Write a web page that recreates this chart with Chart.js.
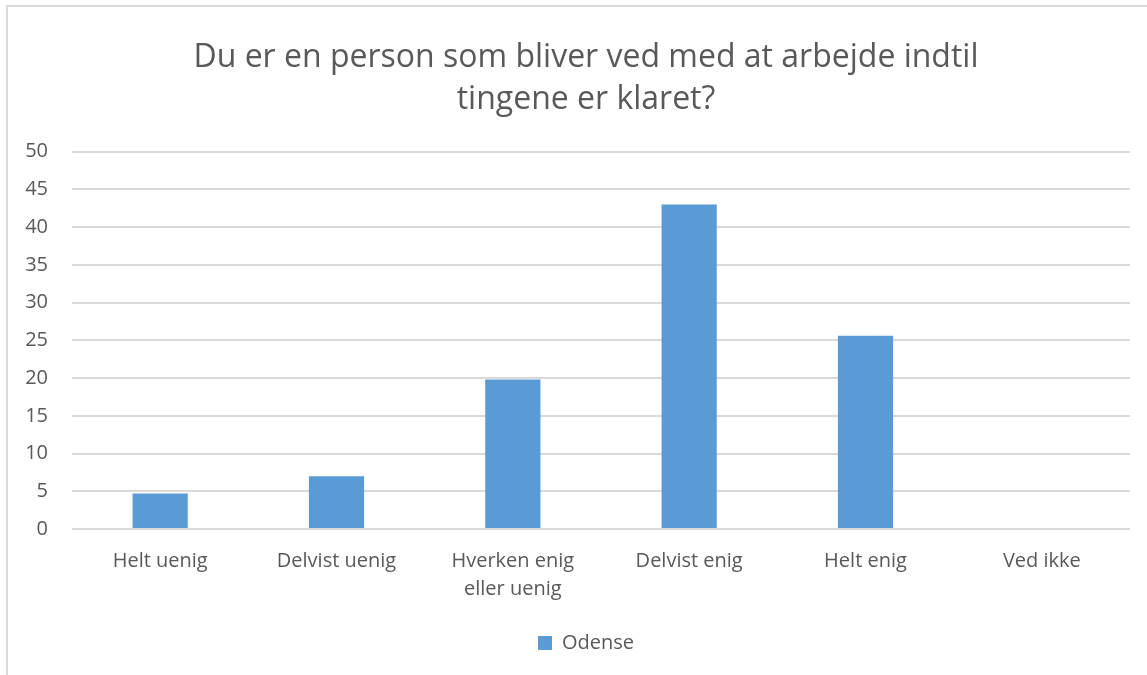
<!DOCTYPE html>
<html>
<head>
<meta charset="utf-8">
<script src="https://cdn.jsdelivr.net/npm/chart.js@4"></script>
<style>
  html, body { margin: 0; padding: 0; background: #fff; }
  #wrap { position: relative; width: 1147px; height: 675px; }
  #frame { position: absolute; left: 6px; top: 5px; right: -5px; bottom: -5px;
           border-top: 2px solid #d9d9d9; border-left: 2px solid #d9d9d9; }
  canvas { position: absolute; left: 0; top: 0; }
</style>
</head>
<body>
<div id="wrap">
  <div id="frame"></div>
  <canvas id="barChartArea" width="1147" height="675"></canvas>
</div>
<script>
const categories = ['Helt uenig', 'Delvist uenig', ['Hverken enig', 'eller uenig'], 'Delvist enig', 'Helt enig', 'Ved ikke'];
const odenseValues = [4.7, 7.0, 19.8, 43.0, 25.6, 0];
const titleLines = ['Du er en person som bliver ved med at arbejde indtil', 'tingene er klaret?'];

const textColor = '#595959';
const fontName = "'Open Sans', 'Liberation Sans', sans-serif";

// title and legend sit a bit right of centre in the original
const shiftBoxes = {
    id: 'shiftBoxes',
    afterLayout(chart) {
        if (chart.titleBlock) chart.titleBlock.left = 42;
        if (chart.legend) chart.legend.left = 42;
    }
};

const barChart = document.getElementById("barChartArea").getContext("2d");

let displayBarChart = new Chart(barChart, {
    type: 'bar',
    data: {
        labels: categories,
        datasets: [{
            label: 'Odense',
            data: odenseValues,
            backgroundColor: '#5B9BD5',
            borderWidth: 0,
            categoryPercentage: 1,
            barPercentage: 0.313,
        }],
    },
    options: {
        responsive: false,
        animation: false,
        devicePixelRatio: 1,
        layout: {
            padding: { left: 0, right: 17, top: 0, bottom: 12 }
        },
        plugins: {
            title: {
                display: true,
                text: titleLines,
                color: textColor,
                font: { family: fontName, size: 32, weight: 'normal', lineHeight: 1.34 },
                padding: { top: 36, bottom: 30 },
            },
            legend: {
                position: 'bottom',
                labels: {
                    color: textColor,
                    font: { family: fontName, size: 20 },
                    boxWidth: 14,
                    boxHeight: 14,
                    padding: 20,
                }
            },
            tooltip: { enabled: false },
        },
        scales: {
            x: {
                grid: { display: false },
                border: { display: false },
                ticks: {
                    color: textColor,
                    font: { family: fontName, size: 20, lineHeight: 1.4 },
                    padding: 10,
                    maxRotation: 0,
                    autoSkip: false,
                }
            },
            y: {
                min: 0,
                max: 50,
                afterFit: function (scale) { scale.width = 72; },
                grid: { color: '#d9d9d9', lineWidth: 2, drawTicks: false },
                border: { display: false },
                ticks: {
                    stepSize: 5,
                    color: textColor,
                    font: { family: fontName, size: 20 },
                    padding: 24,
                }
            }
        }
    },
    plugins: [shiftBoxes],
});
</script>
</body>
</html>
